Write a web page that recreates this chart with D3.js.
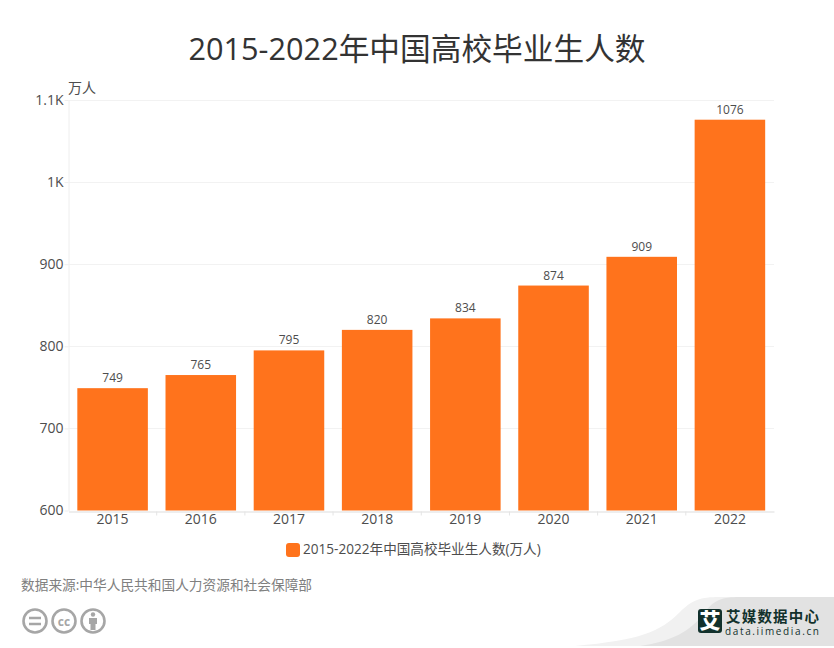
<!DOCTYPE html>
<html>
<head>
<meta charset="utf-8">
<script src="https://cdn.jsdelivr.net/npm/d3@7"></script>
<style>
  html, body { margin: 0; padding: 0; background: #fff; }
  svg { display: block; }
  text { font-family: "Open Sans", "Noto Sans CJK SC", sans-serif; }
</style>
</head>
<body>
<svg id="chart" width="834" height="648"></svg>
<script>
const years = ['2015', '2016', '2017', '2018', '2019', '2020', '2021', '2022'];
const graduates = [749, 765, 795, 820, 834, 874, 909, 1076];
const yTicks = [600, 700, 800, 900, 1000, 1100];
const titleText = '2015-2022年中国高校毕业生人数';
const legendText = '2015-2022年中国高校毕业生人数(万人)';
const unitText = '万人';
const sourceText = '数据来源:中华人民共和国人力资源和社会保障部';

const svg = d3.select('#chart');
const barColor = '#ff731c';

const x = d3.scaleBand().domain(years).range([68.5, 774]).paddingInner(0.2).paddingOuter(0.1);
const y = d3.scaleLinear().domain([600, 1100]).range([510.5, 100]);

svg.append('text')
  .attr('x', 417).attr('y', 60)
  .attr('text-anchor', 'middle')
  .attr('font-size', 30.7).attr('fill', '#333')
  .text(titleText);

// Grid
svg.append('g').selectAll('line')
  .data(yTicks.slice(1))
  .enter().append('line')
  .attr('x1', 68.5).attr('x2', 774)
  .attr('y1', d => Math.round(y(d)) + 0.5).attr('y2', d => Math.round(y(d)) + 0.5)
  .attr('stroke', '#f2f2f2');

// Y axis
const yAxis = svg.append('g')
  .attr('transform', 'translate(68.5,0)')
  .call(d3.axisLeft(y).tickValues(yTicks).tickSize(4).tickPadding(1)
    .tickFormat(d => d >= 1000 ? (d / 1000) + 'K' : d));
yAxis.select('.domain').attr('stroke', '#eee').attr('d', 'M0.5,100V511');
yAxis.selectAll('.tick line').attr('stroke', '#eee');
yAxis.selectAll('.tick text').attr('font-size', 14).attr('fill', '#4d4d4d').attr('font-family', null);

// Bars
svg.append('g').selectAll('rect')
  .data(graduates)
  .enter().append('rect')
  .attr('x', (d, i) => x(years[i]))
  .attr('y', d => y(d))
  .attr('width', x.bandwidth())
  .attr('height', d => y(600) - y(d))
  .attr('fill', barColor);

// Value labels
svg.append('g').selectAll('text')
  .data(graduates)
  .enter().append('text')
  .attr('x', (d, i) => x(years[i]) + x.bandwidth() / 2)
  .attr('y', d => y(d) - 6)
  .attr('text-anchor', 'middle')
  .attr('font-size', 12).attr('fill', '#4d4d4d')
  .text(d => d);

// X axis
const xAxis = svg.append('g')
  .attr('transform', 'translate(0,511.5)')
  .call(d3.axisBottom(x).tickSize(0).tickPadding(3));
xAxis.select('.domain').attr('stroke', '#ddd');
xAxis.selectAll('.tick text').attr('font-size', 14).attr('fill', '#4d4d4d').attr('font-family', null);
xAxis.selectAll('.boundary')
  .data(d3.range(1, years.length))
  .enter().append('line')
  .attr('class', 'boundary')
  .attr('x1', i => x(years[i]) - x.step() * 0.1)
  .attr('x2', i => x(years[i]) - x.step() * 0.1)
  .attr('y1', 0).attr('y2', 4)
  .attr('stroke', '#e4e4e4');

svg.append('text')
  .attr('x', 68).attr('y', 93)
  .attr('font-size', 14).attr('fill', '#4d4d4d')
  .text(unitText);

// Legend
svg.append('rect')
  .attr('x', 286).attr('y', 543).attr('width', 14).attr('height', 14).attr('rx', 3)
  .attr('fill', barColor);
svg.append('text')
  .attr('x', 303).attr('y', 554)
  .attr('font-size', 13.6).attr('fill', '#4d4d4d')
  .text(legendText);

// Source
svg.append('text')
  .attr('x', 21).attr('y', 590)
  .attr('font-size', 13.7).attr('fill', '#808080')
  .text(sourceText);

// CC badges
const badges = svg.append('g').attr('fill', 'none').attr('stroke', '#a6a6a6').attr('stroke-width', 2.6);
[35, 64, 93].forEach(cx => badges.append('circle').attr('cx', cx).attr('cy', 621).attr('r', 11.5));
badges.append('path').attr('d', 'M29,618H41M29,624H41').attr('stroke-width', 2.4);
svg.append('text')
  .attr('x', 64).attr('y', 625.5).attr('text-anchor', 'middle')
  .attr('font-size', 12).attr('font-weight', 700).attr('fill', '#a6a6a6')
  .text('cc');
svg.append('circle').attr('cx', 93).attr('cy', 614.5).attr('r', 2.2).attr('fill', '#a6a6a6');
svg.append('path').attr('d', 'M89,618H97V624H95.5V630H90.5V624H89Z').attr('fill', '#a6a6a6');

// Footer band behind the logo
svg.append('path')
  .attr('d', 'M575,646C640,640 660,632 680,612C692,600 700,597 720,597H834V646Z')
  .attr('fill', '#f1f1f1');
svg.append('path')
  .attr('d', 'M640,646C672,641 690,632 705,612C714,600 722,597 740,597H834V646Z')
  .attr('fill', '#e2e2e2');

// Logo
svg.append('rect')
  .attr('x', 698).attr('y', 609).attr('width', 24).attr('height', 24).attr('rx', 3)
  .attr('fill', '#12312c');
svg.append('text')
  .attr('x', 710).attr('y', 628).attr('text-anchor', 'middle')
  .attr('font-size', 21).attr('font-weight', 900).attr('fill', '#fff')
  .text('艾');
svg.append('text')
  .attr('x', 726).attr('y', 622)
  .attr('font-size', 14.5).attr('font-weight', 700).attr('fill', '#12312c')
  .attr('textLength', 93)
  .text('艾媒数据中心');
svg.append('text')
  .attr('x', 725).attr('y', 634.5)
  .attr('font-size', 10).attr('fill', '#12312c')
  .attr('textLength', 94)
  .text('data.iimedia.cn');
</script>
</body>
</html>
